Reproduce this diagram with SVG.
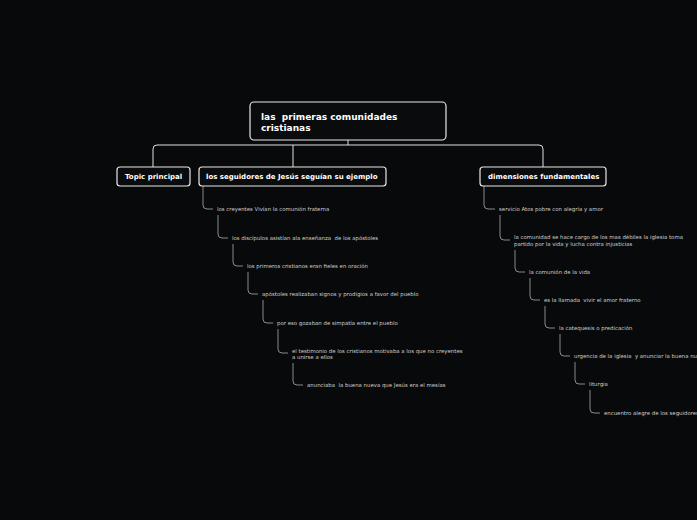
<svg xmlns="http://www.w3.org/2000/svg" width="697" height="520" viewBox="0 0 697 520">
<style>
.node{fill:#0a0b0d;stroke:#e8e8e8;stroke-width:1.2}
.t{font-family:"DejaVu Sans",Verdana,sans-serif;font-weight:bold;fill:#ffffff;white-space:pre}
.s{font-family:"DejaVu Sans",Verdana,sans-serif;font-size:5.4px;fill:#cfcfcf;white-space:pre}
.c{fill:none;stroke:#e0e0e0;stroke-width:1}
.cs{fill:none;stroke:#9a9a9a;stroke-width:0.9}
</style>
<rect width="697" height="520" fill="#08090b"/>
<g id="connectors">
<path class="c" d="M348,140 V145"/>
<path class="c" d="M153,167 V149 Q153,145 157,145 H539 Q543,145 543,149 V167"/>
<path class="c" d="M293,145 V167"/>
<path class="cs" d="M203,186 V205 Q203,209 207,209 H213"/>
<path class="cs" d="M218,215 V234 Q218,238 222,238 H228"/>
<path class="cs" d="M233,244 V262 Q233,266 237,266 H243"/>
<path class="cs" d="M248,272 V290 Q248,294 252,294 H258"/>
<path class="cs" d="M263,300 V319 Q263,323 267,323 H273"/>
<path class="cs" d="M278,329 V349 Q278,353 282,353 H288"/>
<path class="cs" d="M293,363 V381 Q293,385 297,385 H303"/>
<path class="cs" d="M484,186 V205 Q484,209 488,209 H495"/>
<path class="cs" d="M500,215 V236 Q500,240 504,240 H510"/>
<path class="cs" d="M515,250 V268 Q515,272 519,272 H525"/>
<path class="cs" d="M530,278 V296 Q530,300 534,300 H540"/>
<path class="cs" d="M545,306 V324 Q545,328 549,328 H555"/>
<path class="cs" d="M560,334 V352 Q560,356 564,356 H570"/>
<path class="cs" d="M575,362 V380 Q575,384 579,384 H585"/>
<path class="cs" d="M590,390 V409 Q590,413 594,413 H600"/>
</g>
<g id="main">
<rect class="node" x="250" y="102" width="196" height="38" rx="4"/>
<text class="t" font-size="9" x="261" y="120">las  primeras comunidades</text>
<text class="t" font-size="9" x="261" y="131">cristianas</text>
</g>
<g id="topic-principal">
<rect class="node" x="117" y="167" width="73" height="19" rx="3"/>
<text class="t" font-size="7" x="125" y="179">Topic principal</text>
</g>
<g id="seguidores">
<rect class="node" x="199" y="167" width="187" height="19" rx="3"/>
<text class="t" font-size="7" x="206" y="179">los seguidores de Jesús seguían su ejemplo</text>
</g>
<g id="dimensiones">
<rect class="node" x="480" y="167" width="126" height="19" rx="3"/>
<text class="t" font-size="7" x="488" y="179">dimensiones fundamentales</text>
</g>
<g id="l1"><text class="s" x="217" y="211">los creyentes Vivían la comunión fraterna</text></g>
<g id="l2"><text class="s" x="232" y="240">los discípulos asistían ala enseñanza  de los apóstoles</text></g>
<g id="l3"><text class="s" x="247" y="268">los primeros cristianos eran fieles en oración</text></g>
<g id="l4"><text class="s" x="262" y="296">apóstoles realizaban signos y prodigios a favor del pueblo</text></g>
<g id="l5"><text class="s" x="277" y="325">por eso gozaban de simpatía entre el pueblo</text></g>
<g id="l6"><text class="s" x="292" y="353">el testimonio de los cristianos motivaba a los que no creyentes</text><text class="s" x="292" y="359">a unirse a ellos</text></g>
<g id="l7"><text class="s" x="307" y="387">anunciaba  la buena nueva que Jesús era el mesías</text></g>
<g id="r1"><text class="s" x="499" y="211">servicio Atos pobre con alegría y amor</text></g>
<g id="r2"><text class="s" x="514" y="239">la comunidad se hace cargo de los mas débiles la iglesia toma</text><text class="s" x="514" y="246">partido por la vida y lucha contra injusticias</text></g>
<g id="r3"><text class="s" x="529" y="274">la comunión de la vida</text></g>
<g id="r4"><text class="s" x="544" y="302">es la llamada  vivir el amor fraterno</text></g>
<g id="r5"><text class="s" x="559" y="330">la catequesis o predicación</text></g>
<g id="r6"><text class="s" x="574" y="358">urgencia de la iglesia  y anunciar la buena nueva</text></g>
<g id="r7"><text class="s" x="589" y="386">liturgia</text></g>
<g id="r8"><text class="s" x="604" y="415">encuentro alegre de los seguidores</text></g>
</svg>
